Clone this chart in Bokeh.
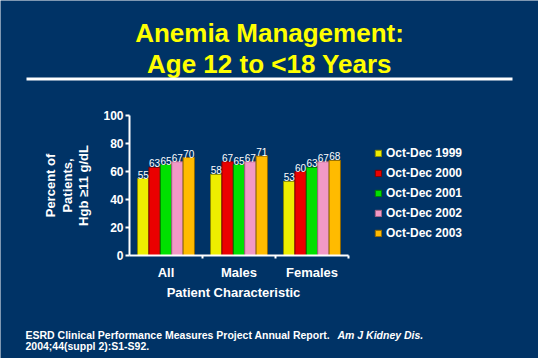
from bokeh.plotting import figure
from bokeh.models import (ColumnDataSource, Range1d, Label, LabelSet, Legend,
                          LegendItem, BoxAnnotation, FixedTicker)
from bokeh.core.properties import value
from bokeh.embed import file_html
from bokeh.resources import INLINE

# ---- data ----
categories = ["All", "Males", "Females"]
series_names = ["Oct-Dec 1999", "Oct-Dec 2000", "Oct-Dec 2001", "Oct-Dec 2002", "Oct-Dec 2003"]
v1999 = [55, 58, 53]
v2000 = [63, 67, 60]
v2001 = [65, 65, 63]
v2002 = [67, 67, 67]
v2003 = [70, 71, 68]
y_ticks = [0, 20, 40, 60, 80, 100]

title_lines = ["Anemia Management:", "Age 12 to <18 Years"]
y_title_lines = ["Percent of", "Patients,", "Hgb \u226511 g/dL"]
x_title = "Patient Characteristic"
footer_1 = "ESRD Clinical Performance Measures Project Annual Report."
footer_1_it = "Am J Kidney Dis."
footer_2 = "2004;44(suppl 2):S1-S92."

series_values = [v1999, v2000, v2001, v2002, v2003]
colors = ["#EEEE00", "#EA0000", "#00E000", "#F299C6", "#FFBB00"]
edge = ["#8A8A00", "#7A0000", "#007A00", "#A06080", "#906800"]

BG = "#003366"
FONT = "Liberation Sans"
W, H = 538, 358

# plot-area geometry (page pixels): y axis at x=130, 0 at y=256, 100 at y=116,
# one category = 73 px wide
X0, Y0, CAT_PX, UNIT_PX = 130, 256, 73, 1.4
OFF = 1  # page offset of the canvas


def px(x):
    return (x - X0) / CAT_PX


def py(y):
    return (Y0 - y) / UNIT_PX


p = figure(width=W, height=H, output_backend="svg", toolbar_location=None,
           x_range=Range1d(px(OFF), px(OFF + W)), y_range=Range1d(py(OFF + H), py(OFF)),
           min_border=0, background_fill_color=BG, border_fill_color=BG)
p.outline_line_color = None
p.grid.visible = False

cat_pos = [i + 0.5 for i in range(len(categories))]
cat_edges = [i + 1 for i in range(len(categories))]
bar_w = 0.156
offsets = [-2 * bar_w, -bar_w, 0, bar_w, 2 * bar_w]
items = []
for name, vals, col, ec, off in zip(series_names, series_values, colors, edge, offsets):
    src = ColumnDataSource(dict(x=[c + off for c in cat_pos], val=vals,
                                txt=[str(v) for v in vals]))
    r = p.vbar(x="x", top="val", bottom=0, width=bar_w, source=src,
               fill_color=col, line_color=ec, line_width=1)
    items.append(LegendItem(label=name, renderers=[r]))
    p.add_layout(LabelSet(x="x", y="val", text="txt", source=src,
                          text_align="center", text_baseline="bottom",
                          text_color="white", text_font=value(FONT),
                          text_font_size="10px"))

# y axis
ya = p.yaxis[0]
ya.fixed_location = 0
ya.bounds = (0, 100)
ya.ticker = y_ticks
ya.axis_line_color = "white"
ya.axis_line_width = 2
ya.major_tick_line_color = "white"
ya.major_tick_line_width = 2
ya.major_tick_out = 4
ya.major_tick_in = 0
ya.minor_tick_line_color = None
ya.major_label_text_color = "white"
ya.major_label_text_font = FONT
ya.major_label_text_font_style = "bold"
ya.major_label_text_font_size = "12px"
ya.major_label_standoff = 2

# x axis (categories)
xa = p.xaxis[0]
xa.fixed_location = 0
xa.bounds = (0, len(categories))
xa.ticker = FixedTicker(ticks=cat_pos, minor_ticks=cat_edges)
xa.major_label_overrides = {c: n for c, n in zip(cat_pos, categories)}
xa.axis_line_color = "white"
xa.axis_line_width = 2
xa.major_tick_line_color = None
xa.major_tick_out = 0
xa.major_tick_in = 0
xa.minor_tick_line_color = "white"
xa.minor_tick_line_width = 2
xa.minor_tick_out = 3
xa.minor_tick_in = 0
xa.major_label_text_color = "white"
xa.major_label_text_font = FONT
xa.major_label_text_font_style = "bold"
xa.major_label_text_font_size = "13px"
xa.major_label_standoff = 6

legend = Legend(items=items, location=(375 - OFF, OFF + H - 243), padding=0, margin=0,
                border_line_color=None, background_fill_alpha=0,
                glyph_width=8, glyph_height=8, label_height=18, spacing=2,
                label_standoff=4, label_text_color="white", label_text_font=FONT,
                label_text_font_style="bold", label_text_font_size="12px")
p.add_layout(legend)


def lab(text, x, y, size, color="white", style="bold", align="left",
        baseline="alphabetic", angle=0):
    p.add_layout(Label(x=px(x), y=py(y), text=text, text_font=FONT, text_font_size=size,
                       text_font_style=style, text_color=color, text_align=align,
                       text_baseline=baseline, angle=angle))


lab(title_lines[0], 270, 33, "26px", color="#FFFF00", align="center")
lab(title_lines[1], 270, 64, "26px", color="#FFFF00", align="center")
p.add_layout(BoxAnnotation(left=px(27), right=px(513), top=py(78), bottom=py(81),
                           fill_color="white", fill_alpha=1, line_color=None))

for t, xx in zip(y_title_lines, [51, 68, 84]):
    lab(t, xx, 186, "13px", align="center", baseline="middle", angle=1.5707963)

lab(x_title, 234, 293, "13px", align="center", baseline="middle")

lab(footer_1, 26, 335, "10.5px")
lab(footer_1_it, 338, 335, "10.5px", style="bold italic")
lab(footer_2, 26, 346, "10.5px")

open("out.html", "w").write(file_html(p, INLINE))
